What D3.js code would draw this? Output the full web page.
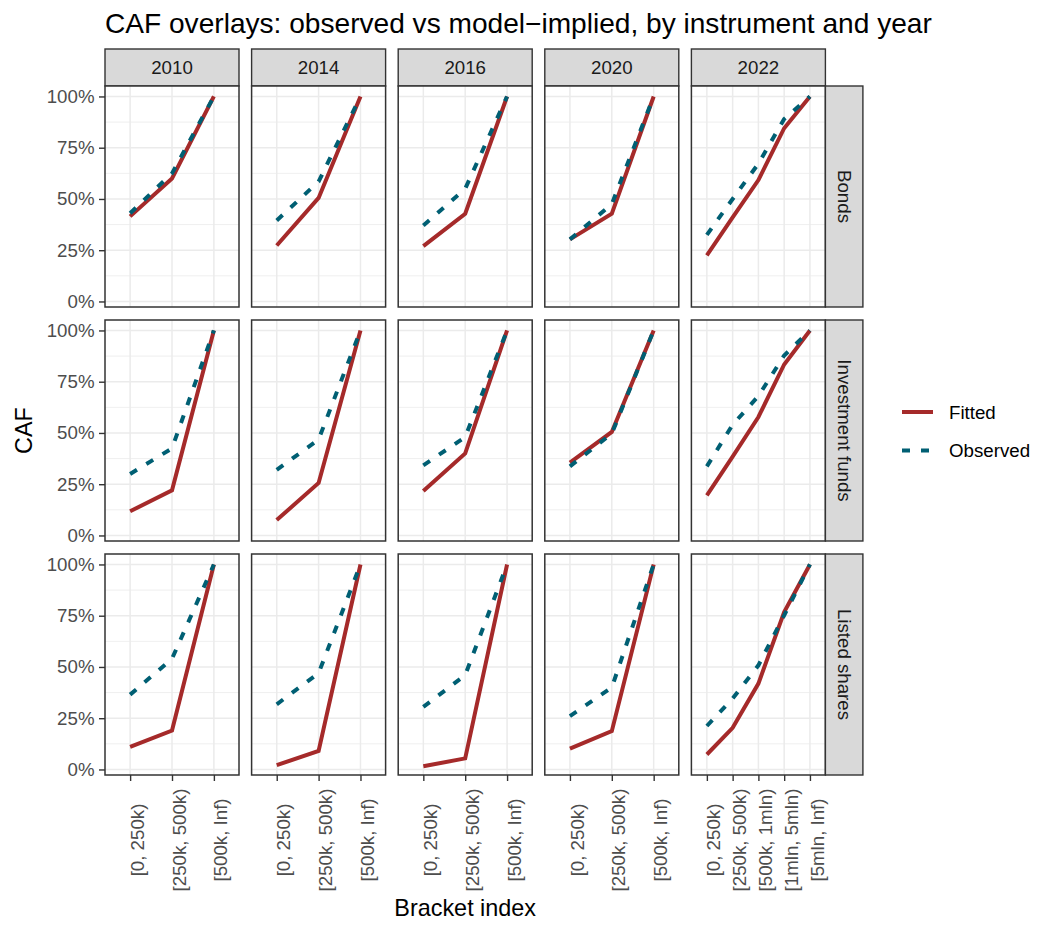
<!DOCTYPE html>
<html>
<head>
<meta charset="utf-8">
<script src="https://cdn.jsdelivr.net/npm/d3@7"></script>
<style>
  html, body { margin: 0; padding: 0; background: #fff; }
  svg { display: block; font-family: "Liberation Sans", Arial, Helvetica, sans-serif; }
</style>
</head>
<body>
<svg id="chart" width="1040" height="925"></svg>
<script>
// ---------------- data ----------------
const years = ["2010", "2014", "2016", "2020", "2022"];
const instruments = ["Bonds", "Investment funds", "Listed shares"];
const brackets3 = ["[0, 250k)", "[250k, 500k)", "[500k, Inf)"];
const brackets5 = ["[0, 250k)", "[250k, 500k)", "[500k, 1mln)", "[1mln, 5mln)", "[5mln, Inf)"];
const yTicks = [0, 0.25, 0.5, 0.75, 1];
const yMinor = [0.125, 0.375, 0.625, 0.875];
const seriesNames = ["Fitted", "Observed"];

// values per year (2010, 2014, 2016, 2020, 2022)
const fittedBonds    = [[0.415, 0.600, 1], [0.273, 0.505, 1], [0.270, 0.428, 1], [0.303, 0.428, 1], [0.225, 0.410, 0.592, 0.845, 1]];
const observedBonds  = [[0.430, 0.625, 1], [0.395, 0.585, 1], [0.370, 0.550, 1], [0.303, 0.475, 1], [0.325, 0.500, 0.672, 0.890, 1]];
const fittedFunds    = [[0.118, 0.220, 1], [0.075, 0.256, 1], [0.217, 0.400, 1], [0.355, 0.505, 1], [0.196, 0.385, 0.578, 0.834, 1]];
const observedFunds  = [[0.300, 0.425, 1], [0.320, 0.468, 1], [0.342, 0.480, 1], [0.337, 0.497, 1], [0.337, 0.540, 0.680, 0.878, 1]];
const fittedShares   = [[0.110, 0.190, 1], [0.021, 0.090, 1], [0.016, 0.054, 1], [0.102, 0.187, 1], [0.073, 0.203, 0.419, 0.768, 1]];
const observedShares = [[0.365, 0.540, 1], [0.318, 0.470, 1], [0.305, 0.460, 1], [0.260, 0.400, 1], [0.212, 0.346, 0.508, 0.752, 1]];

const fittedAll = [fittedBonds, fittedFunds, fittedShares];
const observedAll = [observedBonds, observedFunds, observedShares];

// ---------------- layout ----------------
const colors = { Fitted: "#A52A2A", Observed: "#005F73" };
const svg = d3.select("#chart");
const panelW = 134, panelH = 221;
const left0 = 105, colStep = 146.6;
const top0 = 86, rowStep = 234;
const stripH = 37, stripW = 37.5;
const lineW = 4;
const fsSmall = 18.7, fsMid = 23.4, fsTitle = 28.1;

// title
svg.append("text")
  .attr("x", left0).attr("y", 33)
  .attr("font-size", fsTitle).attr("fill", "#000")
  .text("CAF overlays: observed vs model\u2212implied, by instrument and year");

const y = d3.scaleLinear().domain([-0.027, 1.051]).range([panelH, 0]);

years.forEach((yr, ci) => {
  const cats = yr === "2022" ? brackets5 : brackets3;
  const x = d3.scalePoint().domain(cats).range([0, panelW]).padding(0.6);
  const px = left0 + ci * colStep;

  // top strip
  const st = svg.append("g").attr("transform", `translate(${px},${top0 - stripH})`);
  st.append("rect").attr("width", panelW).attr("height", stripH)
    .attr("fill", "#D9D9D9").attr("stroke", "#333333").attr("stroke-width", 1.4);
  st.append("text").attr("x", panelW / 2).attr("y", stripH / 2)
    .attr("text-anchor", "middle").attr("dy", "0.35em")
    .attr("font-size", fsSmall).attr("fill", "#1A1A1A").text(yr);

  instruments.forEach((inst, ri) => {
    const py = top0 + ri * rowStep;
    const g = svg.append("g").attr("transform", `translate(${px},${py})`);
    g.append("rect").attr("width", panelW).attr("height", panelH).attr("fill", "#fff");
    // minor grid
    g.selectAll(".ymin").data(yMinor).enter().append("line")
      .attr("x1", 0).attr("x2", panelW).attr("y1", d => y(d)).attr("y2", d => y(d))
      .attr("stroke", "#EBEBEB").attr("stroke-width", 0.8);
    // major grid
    g.selectAll(".ymaj").data(yTicks).enter().append("line")
      .attr("x1", 0).attr("x2", panelW).attr("y1", d => y(d)).attr("y2", d => y(d))
      .attr("stroke", "#EBEBEB").attr("stroke-width", 1.5);
    g.selectAll(".xmaj").data(cats).enter().append("line")
      .attr("x1", d => x(d)).attr("x2", d => x(d)).attr("y1", 0).attr("y2", panelH)
      .attr("stroke", "#EBEBEB").attr("stroke-width", 1.5);

    const line = d3.line().x((d, i) => x(cats[i])).y(d => y(d));
    g.append("path").datum(fittedAll[ri][ci])
      .attr("d", line).attr("fill", "none")
      .attr("stroke", colors.Fitted).attr("stroke-width", lineW);
    g.append("path").datum(observedAll[ri][ci])
      .attr("d", line).attr("fill", "none")
      .attr("stroke", colors.Observed).attr("stroke-width", lineW)
      .attr("stroke-dasharray", "8,11");

    g.append("rect").attr("width", panelW).attr("height", panelH)
      .attr("fill", "none").attr("stroke", "#333333").attr("stroke-width", 1.5);

    // y axis on first column
    if (ci === 0) {
      const ay = svg.append("g").attr("transform", `translate(${px},${py})`)
        .call(d3.axisLeft(y).tickValues(yTicks).tickFormat(d3.format(".0%"))
          .tickSizeInner(6).tickSizeOuter(0).tickPadding(4.5));
      ay.select(".domain").remove();
      ay.selectAll(".tick line").attr("stroke", "#333333").attr("stroke-width", 1.4);
      ay.selectAll(".tick text").attr("fill", "#4D4D4D").attr("font-size", fsSmall)
        .attr("font-family", "Liberation Sans, Arial, sans-serif");
    }
    // right strips on last column
    if (ci === years.length - 1) {
      const rs = svg.append("g").attr("transform", `translate(${px + panelW},${py})`);
      rs.append("rect").attr("width", stripW).attr("height", panelH)
        .attr("fill", "#D9D9D9").attr("stroke", "#333333").attr("stroke-width", 1.4);
      rs.append("text")
        .attr("transform", `translate(${stripW / 2},${panelH / 2}) rotate(90)`)
        .attr("text-anchor", "middle").attr("dy", "0.35em")
        .attr("font-size", fsSmall).attr("fill", "#1A1A1A").text(inst);
    }
    // x axis on bottom row
    if (ri === instruments.length - 1) {
      const ax = svg.append("g").attr("transform", `translate(${px},${py + panelH})`)
        .call(d3.axisBottom(x).tickSizeInner(6).tickSizeOuter(0));
      ax.select(".domain").remove();
      ax.selectAll(".tick line").attr("stroke", "#333333").attr("stroke-width", 1.4);
      ax.selectAll(".tick text")
        .attr("fill", "#4D4D4D").attr("font-size", fsSmall)
        .attr("font-family", "Liberation Sans, Arial, sans-serif")
        .attr("text-anchor", "middle")
        .attr("x", null).attr("y", null)
        .attr("transform", "translate(0,65) rotate(-90)")
        .attr("dy", "0.7em");
    }
  });
});

// axis titles
svg.append("text")
  .attr("transform", `translate(32,${top0 + (rowStep * 2 + panelH) / 2}) rotate(-90)`)
  .attr("text-anchor", "middle").attr("font-size", fsMid).attr("fill", "#000").text("CAF");
svg.append("text")
  .attr("x", left0 + (colStep * 4 + panelW) / 2).attr("y", 916)
  .attr("text-anchor", "middle").attr("font-size", fsMid).attr("fill", "#000").text("Bracket index");

// legend
const lg = svg.append("g").attr("transform", "translate(902,412)");
seriesNames.forEach((s, i) => {
  const yy = i * 38.5;
  lg.append("line").attr("x1", 0).attr("x2", 31).attr("y1", yy).attr("y2", yy)
    .attr("stroke", colors[s]).attr("stroke-width", lineW)
    .attr("stroke-dasharray", s === "Observed" ? "8,11" : null);
  lg.append("text").attr("x", 47).attr("y", yy).attr("dy", "0.35em")
    .attr("font-size", fsSmall).attr("fill", "#000").text(s);
});
</script>
</body>
</html>
